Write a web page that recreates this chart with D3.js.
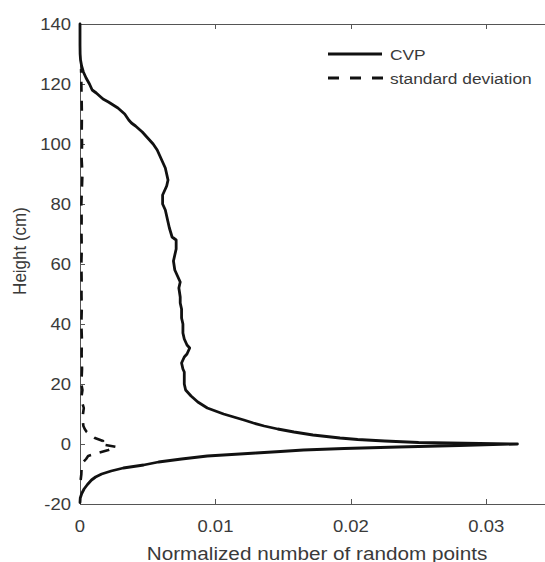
<!DOCTYPE html>
<html>
<head>
<meta charset="utf-8">
<script src="https://cdn.jsdelivr.net/npm/d3@7"></script>
<style>
html,body{margin:0;padding:0;background:#fff;}
svg{display:block;}
text{font-family:"Liberation Sans",Arial,Helvetica,sans-serif;fill:#3a3a3a;}
</style>
</head>
<body>
<svg id="chart" width="545" height="562"></svg>
<script>
// ---- data ----
const cvpHeight = [-19.5,-18,-16.5,-15,-13.5,-12,-11,-10,-9,-8,-7,-6,-5,-4,-3,-2.5,-2,-1.5,-1,-0.5,0,0.5,1,1.5,2,3,4,5,6,7,8,10,12,14,16,18,20,22,24,25,27,29,30,32,33,35,37,40,42,45,47,49,52,54,56,58,61,63,65,67,68,69,72,74,76,78,80,82,83,85,86,88,90,92,94,96,98,100,102,104,106,107,108,110,112,114,115,117,118,120,122,124,126,128,130,133,136,140];
const cvpValue = [0,0.00002,0.00013,0.0003,0.00055,0.00085,0.00115,0.0016,0.0023,0.0032,0.0047,0.0058,0.0075,0.0094,0.013,0.0148,0.0165,0.0195,0.0235,0.028,0.0323,0.025,0.0225,0.0205,0.0192,0.0172,0.0158,0.0146,0.0136,0.0128,0.0121,0.0106,0.0094,0.0087,0.0082,0.0078,0.0077,0.0077,0.0077,0.0076,0.0075,0.0077,0.0079,0.0081,0.0079,0.0077,0.0076,0.0076,0.0075,0.0075,0.0074,0.0074,0.0073,0.0074,0.0072,0.007,0.0069,0.007,0.0071,0.0071,0.0071,0.0068,0.0066,0.0065,0.0064,0.0063,0.0061,0.0061,0.0061,0.0063,0.0064,0.0065,0.0064,0.0063,0.0061,0.0059,0.0057,0.0054,0.005,0.0046,0.0041,0.0038,0.0036,0.0033,0.0028,0.0021,0.0017,0.0012,0.0009,0.0007,0.00045,0.00025,0.00012,0.00004,0.00001,0,0,0];
const sdHeight = [-12,-10,-8,-6,-5,-4,-3,-2,-1,0,1,2,3,4,5,6,8,10,12,14,16,18,20,25,30,35,40,45,50,55,60,65,70,75,80,85,90,95,100,105,110,115,120,125];
const sdValue = [0.00005,0.0001,0.00012,0.00025,0.00045,0.0006,0.0013,0.0021,0.0027,0.0015,0.0017,0.0011,0.0008,0.0005,0.00035,0.00025,0.0002,0.00022,0.00028,0.00015,0.00012,0.00018,0.0001,0.00015,0.00012,0.00014,0.0001,0.00013,0.00011,0.00012,0.0001,0.00013,0.00011,0.00012,0.0001,0.00014,0.00018,0.00012,0.00015,0.00013,0.00014,0.00012,0.0001,0.00008];
const xTicks = [0, 0.01, 0.02, 0.03];
const xTickLabels = ["0", "0.01", "0.02", "0.03"];
const yTicks = [-20, 0, 20, 40, 60, 80, 100, 120, 140];
const seriesNames = ["CVP", "standard deviation"];
const xTitle = "Normalized number of random points";
const yTitle = "Height (cm)";

// ---- layout ----
const svg = d3.select("#chart");
const pL = 80, pR = 554, pT = 24, pB = 504;
const x = d3.scaleLinear().domain([0, 0.035]).range([pL, pR]);
const y = d3.scaleLinear().domain([-20, 140]).range([pB, pT]);
const SX = 1.12; // horizontal stretch of the reference text
const axisColor = "#555";

function addText(g, tx, ty, str, size, anchor, rot) {
  return g.append("text")
    .attr("transform", `translate(${tx},${ty})` + (rot ? ` rotate(${rot}) scale(1,${SX})` : ` scale(${SX},1)`))
    .attr("font-size", size)
    .attr("text-anchor", anchor)
    .text(str);
}

// box
svg.append("rect").attr("x", pL).attr("y", pT).attr("width", pR - pL).attr("height", pB - pT)
  .attr("fill", "none").attr("stroke", axisColor).attr("stroke-width", 1).attr("shape-rendering", "crispEdges");

// axes via d3
const xAxisB = d3.axisBottom(x).tickValues(xTicks).tickSize(-5).tickFormat("");
const xAxisT = d3.axisTop(x).tickValues(xTicks).tickSize(-5).tickFormat("");
const yAxisL = d3.axisLeft(y).tickValues(yTicks).tickSize(-5).tickFormat("");
const yAxisR = d3.axisRight(y).tickValues(yTicks).tickSize(-5).tickFormat("");
function styleAxis(g) { g.selectAll("path").remove(); g.selectAll("line").attr("stroke", axisColor).attr("shape-rendering", "crispEdges"); }
svg.append("g").attr("transform", `translate(0,${pB})`).call(xAxisB).call(styleAxis);
svg.append("g").attr("transform", `translate(0,${pT})`).call(xAxisT).call(styleAxis);
svg.append("g").attr("transform", `translate(${pL},0)`).call(yAxisL).call(styleAxis);
svg.append("g").attr("transform", `translate(${pR},0)`).call(yAxisR).call(styleAxis);

// tick labels
const lab = svg.append("g");
xTicks.forEach((v, i) => addText(lab, x(v), 531.5, xTickLabels[i], 16.5, "middle"));
yTicks.forEach(v => addText(lab, 71, y(v) + 6, String(v), 16.5, "end"));

// axis titles
addText(svg, (pL + pR) / 2, 559.5, xTitle, 18.5, "middle");
addText(svg, 26, 251, yTitle, 17, "middle", -90);

// lines
const cvp = cvpHeight.map((h, i) => ({h, v: cvpValue[i]}));
const sd = sdHeight.map((h, i) => ({h, v: sdValue[i]}));
const line = d3.line().x(d => x(d.v)).y(d => y(d.h));
svg.append("path").datum(sd).attr("d", line).attr("fill", "none").attr("stroke", "#111")
  .attr("stroke-width", 2.6).attr("stroke-dasharray", "10,9").attr("stroke-linejoin", "round");
svg.append("path").datum(cvp).attr("d", line).attr("fill", "none").attr("stroke", "#111")
  .attr("stroke-width", 2.8).attr("stroke-linejoin", "round").attr("stroke-linecap", "round");

// legend
const lg = svg.append("g");
lg.append("line").attr("x1", 328).attr("x2", 382).attr("y1", 54).attr("y2", 54).attr("stroke", "#111").attr("stroke-width", 2.8);
lg.append("line").attr("x1", 328).attr("x2", 386).attr("y1", 78).attr("y2", 78).attr("stroke", "#111").attr("stroke-width", 2.8).attr("stroke-dasharray", "11,11");
addText(lg, 390, 59.5, seriesNames[0], 15.5, "start");
addText(lg, 390, 83.5, seriesNames[1], 15.5, "start");
</script>
</body>
</html>
